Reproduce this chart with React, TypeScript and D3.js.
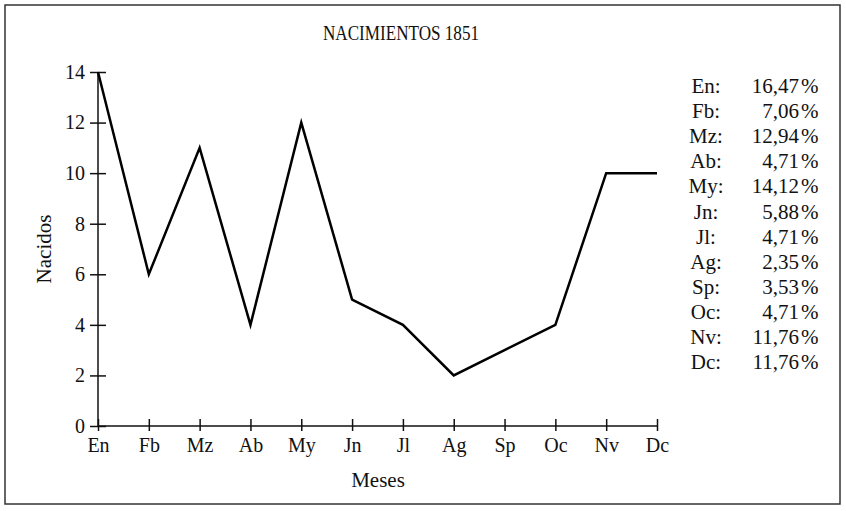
import React, { useEffect, useRef } from 'react';
import * as d3 from 'd3';

// meses y nacidos, 1851
const months = ['En', 'Fb', 'Mz', 'Ab', 'My', 'Jn', 'Jl', 'Ag', 'Sp', 'Oc', 'Nv', 'Dc'];
const births = [14, 6, 11, 4, 12, 5, 4, 2, 3, 4, 10, 10];
const yTicks = [0, 2, 4, 6, 8, 10, 12, 14];
const percents = ['16,47', '7,06', '12,94', '4,71', '14,12', '5,88', '4,71', '2,35', '3,53', '4,71', '11,76', '11,76'];

const W = 846;
const H = 511;
const FONT = '"Liberation Serif", "Times New Roman", serif';

const App = () => {
    const ref = useRef<SVGSVGElement>(null);

    useEffect(() => {
        const svg = d3.select(ref.current);
        svg.selectAll('*').remove();

        //marco
        svg.append('rect')
            .attr('x', 5).attr('y', 5)
            .attr('width', 835).attr('height', 499)
            .attr('fill', '#fff')
            .attr('stroke', '#333')
            .attr('stroke-width', 1.5);

        svg.append('text')
            .attr('x', 401).attr('y', 40)
            .attr('text-anchor', 'middle')
            .attr('font-family', FONT)
            .attr('font-size', 20)
            .attr('textLength', 156)
            .attr('lengthAdjust', 'spacingAndGlyphs')
            .attr('fill', '#111')
            .text('NACIMIENTOS 1851');

        const x = d3.scalePoint<string>().domain(months).range([98, 657]);
        const y = d3.scaleLinear().domain([0, 14]).range([426, 72]);

        //eje y
        const gy = svg.append('g').attr('transform', 'translate(98,0)');
        gy.call(d3.axisLeft(y).tickValues(yTicks).tickSize(0).tickPadding(13).tickFormat(d3.format('d')) as any);
        gy.select('.domain').remove();
        gy.append('line').attr('y1', y(0)).attr('y2', y(14)).attr('stroke', '#111').attr('stroke-width', 1.5);
        gy.selectAll('.tick line').remove();
        gy.selectAll('.tick').append('line')
            .attr('x1', -8).attr('x2', 8)
            .attr('stroke', '#111').attr('stroke-width', 1.5);
        gy.selectAll('text').attr('font-family', FONT).attr('font-size', 20).attr('fill', '#111');

        //eje x
        const gx = svg.append('g').attr('transform', 'translate(0,' + y(0) + ')');
        gx.call(d3.axisBottom(x).tickSize(0).tickPadding(12) as any);
        gx.select('.domain').remove();
        gx.append('line').attr('x1', x('En')!).attr('x2', x('Dc')!).attr('stroke', '#111').attr('stroke-width', 1.5);
        gx.selectAll('.tick line').remove();
        gx.selectAll('.tick').append('line')
            .attr('y1', -7).attr('y2', 5)
            .attr('stroke', '#111').attr('stroke-width', 1.5);
        gx.selectAll('text').attr('font-family', FONT).attr('font-size', 20).attr('fill', '#111');

        svg.append('text')
            .attr('x', 378).attr('y', 487)
            .attr('text-anchor', 'middle')
            .attr('font-family', FONT).attr('font-size', 21)
            .attr('fill', '#111')
            .text('Meses');

        svg.append('text')
            .attr('transform', 'translate(51,' + 249 + ') rotate(-90)')
            .attr('text-anchor', 'middle')
            .attr('font-family', FONT).attr('font-size', 21)
            .attr('fill', '#111')
            .text('Nacidos');

        //linea
        const line = d3.line<number>()
            .x((d, i) => x(months[i])!)
            .y(d => y(d));
        svg.append('path')
            .datum(births)
            .attr('d', line)
            .attr('fill', 'none')
            .attr('stroke', '#000')
            .attr('stroke-width', 2.5)
            .attr('stroke-linejoin', 'miter');

        //porcentajes
        const rows = svg.append('g');
        months.forEach((m, i) => {
            const yy = 93 + i * 25.1;
            rows.append('text')
                .attr('x', 706).attr('y', yy)
                .attr('text-anchor', 'middle')
                .attr('font-family', FONT).attr('font-size', 21)
                .attr('fill', '#111')
                .text(m + ':');
            rows.append('text')
                .attr('x', 799).attr('y', yy)
                .attr('text-anchor', 'end')
                .attr('font-family', FONT).attr('font-size', 21)
                .attr('fill', '#111')
                .text(percents[i]);
            rows.append('text')
                .attr('x', 801).attr('y', yy)
                .attr('font-family', FONT).attr('font-size', 21)
                .attr('fill', '#111')
                .text('%');
        });
    }, []);

    return (
        <svg ref={ref} width={W} height={H} style={{ position: 'absolute', left: 0, top: 0 }}></svg>
    );
};

export default App;
